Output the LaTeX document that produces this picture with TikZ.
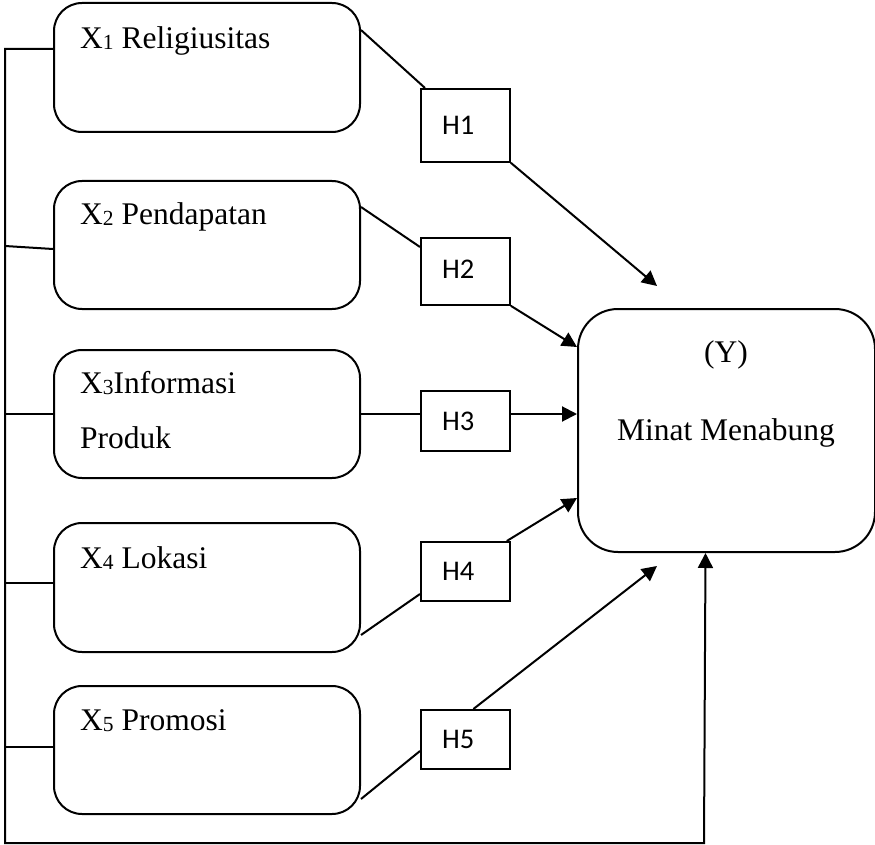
\documentclass[tikz,border=0pt]{standalone}
\usepackage{fontspec}
\setmainfont{Liberation Serif}
\newfontfamily\hfont{Carlito}
\usetikzlibrary{arrows.meta,calc}
\newcommand\subnum[1]{\raisebox{-1pt}{\fontsize{21.5}{22}\selectfont #1}}
\begin{document}
\begin{tikzpicture}[x=1pt,y=-1pt,
  xbox/.style={draw,line width=2pt,rounded corners=28pt,minimum width=306pt,anchor=north west,inner sep=0pt},
  hbox/.style={draw,line width=1.8pt,minimum width=89pt,anchor=north west,inner sep=0pt},
  ln/.style={line width=2pt},
  arr/.style={ln,-{Triangle[length=15pt,width=15pt]}},
  lbl/.style={anchor=base west,inner sep=0pt,font=\fontsize{31.5}{36}\selectfont},
  ylbl/.style={anchor=base,inner sep=0pt,font=\fontsize{31.5}{36}\selectfont},
  hl/.style={anchor=west,inner sep=0pt,font=\hfont\fontsize{28.5}{32}\selectfont}]
\useasboundingbox (0,0) rectangle (875,845);

% left boxes
\node[xbox,minimum height=129pt] (b1) at (53,2) {};
\node[xbox,minimum height=128pt] (b2) at (53,180) {};
\node[xbox,minimum height=128pt] (b3) at (53,349) {};
\node[xbox,minimum height=129pt] (b4) at (53,522) {};
\node[xbox,minimum height=128pt] (b5) at (53,685) {};

% texts
\node[lbl] (t1) at (80,49) {X\subnum{1} Religiusitas};
\node[lbl] (t2) at (80,225) {X\subnum{2} Pendapatan};
\node[lbl] (t3) at (80,393) {X\subnum{3}Informasi};
\node[lbl] (t3b) at (80,448) {Produk};
\node[lbl] (t4) at (80,568) {X\subnum{4} Lokasi};
\node[lbl] (t5) at (80,730) {X\subnum{5} Promosi};

% Y box
\node[draw,line width=2pt,rounded corners=40pt,minimum width=297pt,minimum height=243pt,anchor=north west,inner sep=0pt] (y) at (577,308) {};
\node[ylbl] (ty) at (726,362) {(Y)};
\node[ylbl] (tm) at (726,440) {Minat Menabung};

% H boxes
\node[hbox,minimum height=73pt] (h1) at (420,88) {};
\node[hbox,minimum height=67pt] (h2) at (420,237) {};
\node[hbox,minimum height=60pt] (h3) at (420,390) {};
\node[hbox,minimum height=59pt] (h4) at (420,541) {};
\node[hbox,minimum height=59pt] (h5) at (420,709) {};
\node[hl] (l1) at ($(h1.west)+(22,0)$) {H1};
\node[hl] (l2) at ($(h2.west)+(22,-2)$) {H2};
\node[hl] (l3) at ($(h3.west)+(22,0)$) {H3};
\node[hl] (l4) at ($(h4.west)+(22,0)$) {H4};
\node[hl] (l5) at ($(h5.west)+(22,0)$) {H5};

% free arrow ends
\coordinate (a1) at (657,286);
\coordinate (a5) at (657,566);

% connectors
\draw[ln] ($(b1.north east)+(0,28)$) -- ($(h1.north west)+(5,0)$);
\draw[arr] (h1.south east) -- (a1);
\draw[ln] ($(b2.north east)+(0,27)$) -- ($(h2.north west)+(0,10)$);
\draw[arr] (h2.south east) -- ($(y.north west)+(0,39)$);
\draw[ln] (b3.east) -- (b3.east -| h3.west);
\draw[arr] (b3.east -| h3.east) -- (b3.east -| y.west);
\draw[ln] ($(b4.south east)+(0,-18)$) -- ($(h4.north west)+(0,53)$);
\draw[arr] ($(h4.north east)+(-4,0)$) -- ($(y.south west)+(0,-55)$);
\draw[ln] ($(b5.south east)+(0,-16)$) -- ($(h5.north west)+(0,42)$);
\draw[arr] ($(h5.north)+(8,0)$) -- (a5);

% left bus and bottom feedback
\coordinate (ltop) at (5,49);
\coordinate (lbot) at (5,843);
\draw[arr] ($(b1.north west)+(0,47)$) -- (ltop) -- (lbot) -- (lbot -| 704,0) -- ($(y.south)+(-21,0)$);
\draw[ln] (5,246) -- ($(b2.north west)+(0,69)$);
\draw[ln] (b3.west -| ltop) -- (b3.west);
\draw[ln] (5,583) -- ($(b4.north west)+(0,61)$);
\draw[ln] (5,747) -- ($(b5.north west)+(0,62)$);
\end{tikzpicture}
\end{document}
